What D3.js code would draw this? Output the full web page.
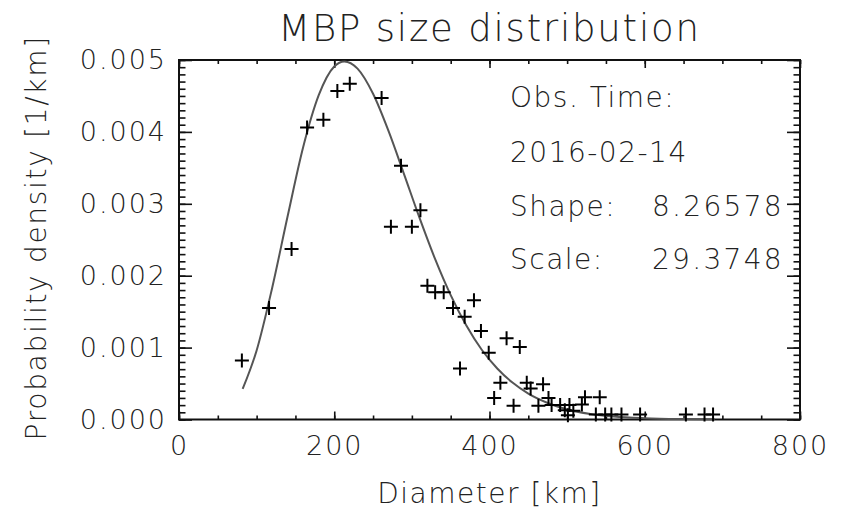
<!DOCTYPE html>
<html><head><meta charset="utf-8">
<script src="https://cdn.jsdelivr.net/npm/d3@7"></script>
<style>
body{margin:0;background:#fff}
text{font-family:"DejaVu Sans";font-weight:200;fill:#222}
</style></head><body>
<svg id="chart" width="841" height="515"></svg>
<script>
// Observed histogram points (diameter km, probability density 1/km)
const diameters = [81,116,145,165,186,204,220,261,286,273,300,311,320,330,341,353,380,368,389,399,
  362,414,406,422,439,448,469,453,431,463,476,480,491,503,497,508,519,523,542,501,
  537,549,557,570,594,653,677,688];
const densities = [0.00082,0.00155,0.00237,0.00406,0.00417,0.00457,0.00467,0.00447,0.00353,0.00268,
  0.00268,0.00291,0.00186,0.00177,0.00177,0.00155,0.00166,0.00143,0.00123,0.00093,
  0.00071,0.00051,0.00030,0.00113,0.00101,0.00051,0.00049,0.00043,0.00019,0.00019,
  0.00030,0.00020,0.00020,0.00020,0.00013,0.00012,0.00021,0.00031,0.00031,0.00006,
  0.00007,0.00007,0.00007,0.00007,0.00007,0.00007,0.00007,0.00007];
// Fitted curve
const fitDiameters = [82,100,120,140,160,180,200,213,230,250,270,290,310,330,350,370,390,410,430,450,475,500,530,560,600,650,690];
const fitDensities = [0.000425,0.00096,0.00183,0.00283,0.00379,0.00451,0.00491,0.00498,0.00488,0.00453,0.00401,0.00341,
  0.00280,0.00223,0.00173,0.00131,0.00097,0.00071,0.00051,0.00036,0.00023,0.00014,0.000077,0.000041,0.000018,0.000006,0.000002];
const xMajorTicks = [0,200,400,600,800];
const xMinorTicks = d3.range(0, 801, 50);
const yMajorTicks = [0,0.001,0.002,0.003,0.004,0.005];
const yMinorTicks = d3.range(0, 51).map(i => i * 0.0001);
const titleText = "MBP size distribution";
const xLabel = "Diameter [km]";
const yLabel = "Probability density [1/km]";
const infoLabels = ["Obs. Time:", "2016-02-14", "Shape:", "Scale:"];
const infoValues = ["", "", "8.26578", "29.3748"];

const W = 841, H = 515;
const m = {left:179, right:41, top:60, bottom:95.5};
const svg = d3.select("#chart");
const iw = W - m.left - m.right, ih = H - m.top - m.bottom;
const x = d3.scaleLinear().domain([0,800]).range([0, iw]);
const y = d3.scaleLinear().domain([0,0.005]).range([ih, 0]);
const g = svg.append("g").attr("transform",`translate(${m.left},${m.top})`);

function styleAxis(sel){
  sel.select(".domain").remove();
  sel.selectAll("line").attr("stroke","#111").attr("stroke-width",1.6);
  sel.selectAll("text").style("font-family","DejaVu Sans").style("font-weight","200")
    .style("font-size","27px").attr("fill","#222").style("letter-spacing","2px");
}
const fmtY = d3.format(".3f");
// bottom
g.append("g").attr("transform",`translate(0,${ih})`)
  .call(d3.axisBottom(x).tickValues(xMinorTicks).tickSize(-4).tickFormat(""))
  .call(styleAxis);
g.append("g").attr("transform",`translate(0,${ih})`)
  .call(d3.axisBottom(x).tickValues(xMajorTicks).tickSize(-8).tickPadding(16).tickFormat(d3.format("d")))
  .call(styleAxis);
// top
g.append("g").call(d3.axisTop(x).tickValues(xMinorTicks).tickSize(-4).tickFormat("")).call(styleAxis);
g.append("g").call(d3.axisTop(x).tickValues(xMajorTicks).tickSize(-8).tickFormat("")).call(styleAxis);
// left
g.append("g").call(d3.axisLeft(y).tickValues(yMinorTicks).tickSize(-6.5).tickFormat("")).call(styleAxis);
g.append("g").call(d3.axisLeft(y).tickValues(yMajorTicks).tickSize(-13).tickPadding(12).tickFormat(fmtY)).call(styleAxis);
// right
g.append("g").attr("transform",`translate(${iw},0)`)
  .call(d3.axisRight(y).tickValues(yMinorTicks).tickSize(-6.5).tickFormat("")).call(styleAxis);
g.append("g").attr("transform",`translate(${iw},0)`)
  .call(d3.axisRight(y).tickValues(yMajorTicks).tickSize(-13).tickFormat("")).call(styleAxis);

// frame
g.append("rect").attr("width",iw).attr("height",ih).attr("fill","none")
  .attr("stroke","#111").attr("stroke-width",2);

// fit curve
const line = d3.line().x((d,i)=>x(fitDiameters[i])).y((d,i)=>y(fitDensities[i])).curve(d3.curveMonotoneX);
g.append("path").datum(fitDiameters).attr("d",line).attr("fill","none")
  .attr("stroke","#555").attr("stroke-width",2);

// points
g.selectAll(".pt").data(diameters).enter().append("path").attr("class","pt")
  .attr("transform",(d,i)=>`translate(${x(d)},${y(densities[i])})`)
  .attr("d","M-7,0H7M0,-7V7").attr("stroke","#000").attr("stroke-width",2).attr("fill","none");

// annotations
const infoY = [97, 152, 206, 259];
infoLabels.forEach((t,i)=>{
  svg.append("text").attr("x",510).attr("y",infoY[i]).attr("dy","0.35em")
    .style("font-size","28px").style("letter-spacing","1.5px").text(t);
  if(infoValues[i]) svg.append("text").attr("x",652).attr("y",infoY[i]).attr("dy","0.35em")
    .style("font-size","28px").style("letter-spacing","2.3px").text(infoValues[i]);
});

// title and labels
svg.append("text").attr("x", m.left + iw/2).attr("y", 28).attr("dy","0.35em")
  .attr("text-anchor","middle").style("font-size","37px").style("letter-spacing","1.8px").text(titleText);
svg.append("text").attr("x", m.left + iw/2).attr("y", 493).attr("dy","0.35em")
  .attr("text-anchor","middle").style("font-size","28px").style("letter-spacing","1.5px").text(xLabel);
svg.append("text").attr("transform",`translate(36,${m.top+ih/2 - 2}) rotate(-90)`).attr("dy","0.35em")
  .attr("text-anchor","middle").style("font-size","28px").style("letter-spacing","1.7px").text(yLabel);
</script></body></html>
